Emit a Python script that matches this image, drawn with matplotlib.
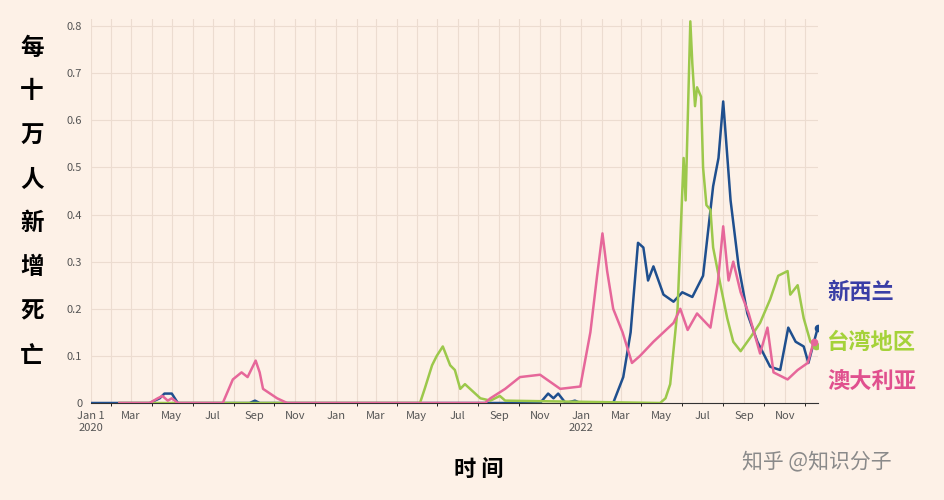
import pandas as pd
import matplotlib.pyplot as plt
import matplotlib.dates as mdates

plt.rcParams['font.family'] = ['Noto Sans CJK SC', 'DejaVu Sans']

# days since 2020-01-01, deaths per 100k
nz_day = [0, 43, 88, 103, 110, 121, 130, 237, 245, 252, 670, 682, 690, 697, 708, 722, 730, 775, 779, 794,
          805, 816, 824, 831, 839, 854, 869, 882, 897, 913, 928, 936, 943, 954, 966, 979, 994, 1013, 1028,
          1040, 1051, 1063, 1070, 1084]
nz_val = [0, 0, 0, 0.01, 0.02, 0.02, 0, 0, 0.005, 0, 0, 0.02, 0.01, 0.02, 0, 0.005, 0, 0, 0, 0.055,
          0.15, 0.34, 0.33, 0.26, 0.29, 0.23, 0.215, 0.235, 0.225, 0.27, 0.46, 0.52, 0.64, 0.43, 0.29, 0.19,
          0.13, 0.077, 0.07, 0.16, 0.13, 0.12, 0.085, 0.16]

tw_day = [43, 491, 498, 509, 516, 525, 536, 543, 551, 558, 581, 596, 610, 618, 849, 857, 864, 875, 884,
          887, 894, 897, 901, 904, 910, 913, 918, 924, 928, 939, 949, 958, 969, 984, 998, 1013, 1025, 1039,
          1043, 1054, 1063, 1073, 1081]
tw_val = [0, 0, 0.03, 0.08, 0.1, 0.12, 0.08, 0.07, 0.03, 0.04, 0.01, 0.005, 0.015, 0.005, 0, 0.01, 0.04,
          0.2, 0.52, 0.43, 0.81, 0.72, 0.63, 0.67, 0.65, 0.5, 0.42, 0.41, 0.33, 0.25, 0.18, 0.13, 0.11, 0.14,
          0.17, 0.22, 0.27, 0.28, 0.23, 0.25, 0.18, 0.13, 0.12]

au_day = [43, 88, 100, 107, 115, 121, 130, 185, 197, 212, 225, 234, 246, 252, 257, 278, 293, 588, 596,
          618, 640, 670, 685, 700, 730, 745, 755, 763, 770, 779, 793, 807, 819, 839, 854, 869, 879, 890,
          904, 924, 935, 943, 951, 958, 969, 981, 998, 1009, 1018, 1039, 1054, 1069, 1078]
au_val = [0, 0, 0.01, 0.015, 0.005, 0.01, 0, 0, 0, 0.05, 0.065, 0.055, 0.09, 0.065, 0.03, 0.01, 0, 0, 0.01,
          0.03, 0.055, 0.06, 0.045, 0.03, 0.035, 0.15, 0.27, 0.36, 0.28, 0.2, 0.15, 0.085, 0.1, 0.13, 0.15,
          0.17, 0.2, 0.155, 0.19, 0.16, 0.255, 0.375, 0.26, 0.3, 0.235, 0.19, 0.105, 0.16, 0.065, 0.05, 0.07,
          0.085, 0.13]

series = [
    ('新西兰', nz_day, nz_val, '#1f4f8e', '#3a3ea6', 0.235),
    ('台湾地区', tw_day, tw_val, '#9cc84b', '#a5d23a', 0.128),
    ('澳大利亚', au_day, au_val, '#e6679a', '#e0508e', 0.045),
]

start = pd.Timestamp('2020-01-01')
bg = '#fdf1e7'

fig = plt.figure(figsize=(9.44, 5), dpi=100, facecolor=bg)
ax = fig.add_axes([0.096, 0.194, 0.771, 0.768])
ax.set_facecolor(bg)

for name, day, val, c, tc, ty in series:
    d = start + pd.to_timedelta(day, unit='D')
    ax.plot(d, val, color=c, lw=1.8, zorder=3)
    ax.plot(d[-1], val[-1], 'o', color=c, ms=4.5, zorder=4)
    ax.text(1.012, ty, name, transform=ax.get_yaxis_transform(), color=tc,
            fontsize=16, fontweight='bold', va='center')

ax.set_xlim(start, pd.Timestamp('2022-12-21'))
ax.set_ylim(0, 0.815)
ax.set_yticks([0, 0.1, 0.2, 0.3, 0.4, 0.5, 0.6, 0.7, 0.8])
ax.set_yticklabels(['0', '0.1', '0.2', '0.3', '0.4', '0.5', '0.6', '0.7', '0.8'])

months = pd.date_range('2020-01-01', '2022-11-01', freq='2MS')
labels = []
for m in months:
    if m == start:
        labels.append('Jan 1\n2020')
    elif m.year == 2022 and m.month == 1:
        labels.append('Jan\n2022')
    else:
        labels.append(m.strftime('%b'))
ax.set_xticks(months)
ax.set_xticklabels(labels, ha='center', va='top')
ax.xaxis.set_minor_locator(mdates.MonthLocator())
ax.tick_params(axis='both', length=0, labelsize=8, colors='#555555', pad=6)
ax.grid(True, which='both', color='#ecdcd0', lw=0.8)
ax.set_axisbelow(True)
for s in ['top', 'right', 'left']:
    ax.spines[s].set_visible(False)
ax.spines['bottom'].set_color('#333333')
ax.spines['bottom'].set_linewidth(0.8)

for i, ch in enumerate('每十万人新增死亡'):
    fig.text(0.034, 0.905 - i * 0.088, ch, fontsize=17, fontweight='bold', ha='center', va='center')
fig.text(0.507, 0.062, '时 间', fontsize=16, fontweight='bold', ha='center', va='center')
fig.text(0.865, 0.078, '知乎 @知识分子', fontsize=15, color='#8a8a8a', ha='center', va='center')

fig.savefig('out.png', dpi=100, facecolor=bg)
